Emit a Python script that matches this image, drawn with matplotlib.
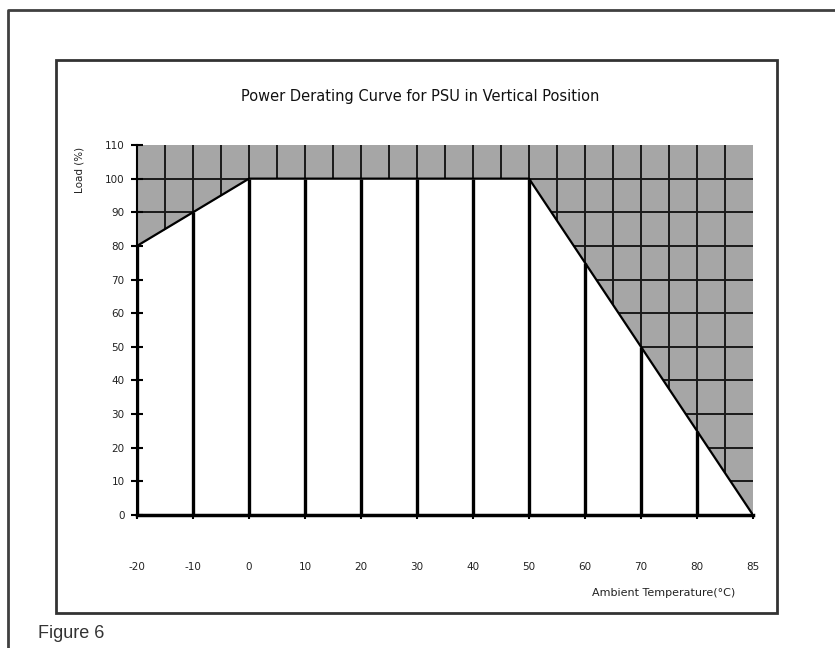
import matplotlib.pyplot as plt
from matplotlib.lines import Line2D
from matplotlib.patches import Rectangle
import numpy as np

plt.rcParams['font.family'] = ['DejaVu Sans']

# derating curve
temps = ['-20', '-10', '0', '10', '20', '30', '40', '50', '60', '70', '80', '85']
load = [80, 90, 100, 100, 100, 100, 100, 100, 75, 50, 25, 0]
y_ticks = [0, 10, 20, 30, 40, 50, 60, 70, 80, 90, 100, 110]

W, H = 835, 648
fig = plt.figure(figsize=(W / 100, H / 100), dpi=100)

# page frame and chart frame
fig.add_artist(Line2D([8 / W, 8 / W, 1], [0, 1 - 10 / H, 1 - 10 / H],
                      color='#404040', lw=2))
fig.add_artist(Rectangle((56 / W, 1 - 613 / H), (777 - 56) / W, (613 - 60) / H,
                         fill=False, edgecolor='#333333', lw=2))

ax = fig.add_axes([137 / W, 1 - 515 / H, (753 - 137) / W, (515 - 145) / H])
x = np.arange(len(temps))
ax.set_xlim(0, len(temps) - 1)
ax.set_ylim(0, 110)
ax.set_facecolor('#a6a6a6')

# grid, hidden below the curve by the white fill
xg = np.arange(0.5, len(temps) - 1, 0.5)
ax.vlines(xg, 0, 110, color='#1a1a1a', lw=1.4, zorder=0.5)
ax.hlines(y_ticks[:-1], 0, len(temps) - 1, color='#1a1a1a', lw=1.4, zorder=0.5)

ax.fill_between(x, 0, load, color='white', zorder=1, lw=0)
ax.vlines(x, 0, load, color='black', lw=2.4, zorder=2)
ax.plot(x, load, color='black', lw=1.6, zorder=3)

for s in ['top', 'right']:
    ax.spines[s].set_visible(False)
ax.spines['left'].set_linewidth(1.5)
ax.spines['bottom'].set_linewidth(2.5)
ax.spines['left'].set_zorder(4)
ax.spines['bottom'].set_zorder(4)

ax.set_xticks(x)
ax.set_xticklabels(temps)
ax.set_yticks(y_ticks)
ax.tick_params(axis='x', direction='out', length=3, width=1.5, pad=31,
               labelsize=7.5, labelcolor='#222222')
ax.tick_params(axis='y', direction='inout', length=8, width=1.5, pad=5,
               labelsize=7.5, labelcolor='#222222')

fig.text(420 / W, 1 - 96 / H, 'Power Derating Curve for PSU in Vertical Position',
         ha='center', va='center', fontsize=10.5, color='#111111')
fig.text(79 / W, 1 - 147 / H, 'Load (%)', rotation=90, ha='center', va='top',
         fontsize=7.5, color='#222222')
fig.text(735 / W, 1 - 593 / H, 'Ambient Temperature(°C)', ha='right', va='center',
         fontsize=8, color='#222222')
fig.text(38 / W, 1 - 633 / H, 'Figure 6', ha='left', va='center',
         fontsize=13, color='#333333', family='Liberation Sans')

fig.savefig('out.png', dpi=100)
